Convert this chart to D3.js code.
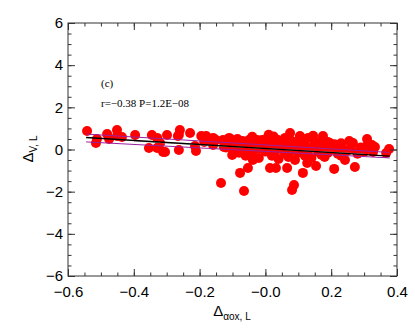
<!DOCTYPE html>
<html>
<head>
<meta charset="utf-8">
<script src="https://cdn.jsdelivr.net/npm/d3@7"></script>
<style>
  body { margin: 0; background: #fff; }
  svg { display: block; }
</style>
</head>
<body>
<svg id="chart" width="415" height="332"></svg>
<script>
// values
const dAox = [
  -0.542, -0.515, -0.512, -0.481, -0.475, -0.451, -0.451, -0.436, -0.396, -0.354,
  -0.345, -0.329, -0.329, -0.320, -0.311, -0.299, -0.266, -0.260, -0.263, -0.229,
  -0.214, -0.211, -0.180, -0.177, -0.159, -0.150, -0.135, -0.129, -0.101, -0.098,
  -0.077, -0.065, -0.053, -0.050, -0.025, -0.038, 0.008, 0.014, 0.032, 0.038,
  0.066, 0.075, 0.078, 0.105, 0.087, 0.081, 0.114, 0.127, 0.151, 0.154,
  0.175, 0.196, 0.209, 0.218, 0.236, 0.242, 0.266, 0.272, 0.309, 0.324,
  0.333, 0.327, 0.367, 0.376,
  -0.305, -0.263, -0.195, -0.186, -0.159, -0.126, -0.126, -0.102, -0.095, -0.074,
  -0.056, -0.050,
  -0.12, -0.11, -0.10, -0.09, -0.08, -0.07, -0.07, -0.06, -0.05, -0.05,
  -0.04, -0.04, -0.03, -0.02, -0.02, -0.01, -0.01, 0.00, 0.00, 0.01,
  0.01, 0.02, 0.02, 0.03, 0.03, 0.04, 0.04, 0.05, 0.05, 0.06,
  0.06, 0.07, 0.07, 0.08, 0.08, 0.09, 0.09, 0.10, 0.10, 0.11,
  0.11, 0.12, 0.12, 0.13, 0.13, 0.14, 0.14, 0.15, 0.16, 0.16,
  0.17, 0.17, 0.18, 0.19, 0.19, 0.20, 0.21, 0.22, 0.23, 0.25,
  0.26, 0.28, 0.29, 0.30, 0.31,
  -0.115, -0.085, 0.025, 0.065, 0.105, 0.145, 0.18, 0.23, 0.255, 0.287
];
const dV = [
  0.88, 0.31, 0.50, 0.73, 0.50, 0.92, 0.64, 0.59, 0.69, 0.07,
  0.69, 0.55, 0.07, 0.31, -0.12, 0.69, 0.64, 0.92, -0.02, 0.78,
  0.17, -0.07, 0.64, 0.45, 0.21, 0.45, -1.59, 0.45, -0.26, 0.36,
  -1.11, -1.97, -0.88, 0.45, 0.45, -0.50, 0.59, -0.88, -0.88, 0.45,
  -0.88, 0.78, 0.31, 0.64, -1.68, -1.92, -1.11, -0.64, 0.36, -0.78,
  0.64, 0.31, -0.92, 0.12, 0.02, -0.50, 0.31, -0.83, 0.50, 0.21,
  0.12, -0.12, -0.17, 0.02,
  -0.12, 0.69, 0.64, 0.36, 0.55, 0.36, 0.12, 0.45, -0.17, 0.36,
  0.21, -0.17,
  0.10, 0.55, 0.05, 0.25, -0.15, 0.40, 0.10, -0.30, 0.20, 0.00,
  0.60, -0.15, 0.30, 0.05, -0.40, 0.45, 0.15, -0.10, 0.30, 0.70,
  0.00, -0.30, 0.20, 0.50, -0.05, 0.10, -0.45, 0.35, 0.00, -0.20,
  0.55, 0.15, -0.35, 0.40, -0.05, 0.05, -0.50, 0.25, -0.15, 0.45,
  0.00, -0.30, 0.20, 0.55, -0.05, 0.10, -0.40, 0.30, -0.10, 0.05,
  0.40, -0.25, 0.15, -0.15, 0.35, 0.00, 0.25, -0.20, 0.30, -0.05,
  0.05, -0.20, 0.10, -0.10, 0.20,
  0.30, 0.50, 0.62, 0.25, 0.60, 0.65, -0.35, -0.30, 0.40, -0.05
];

// fit lines: [x0, y0, x1, y1]
const fitLines = [
  { name: "upper", pts: [-0.545, 0.73, 0.378, -0.14], color: "#9b1fa0" },
  { name: "lower", pts: [-0.545, 0.36, 0.378, -0.40], color: "#9b1fa0" },
  { name: "alt", pts: [-0.40, 0.40, 0.30, -0.22], color: "#aaaaaa" },
  { name: "fit", pts: [-0.545, 0.57, 0.378, -0.31], color: "#000000" }
];

const xTicks = [-0.6, -0.4, -0.2, 0.0, 0.2, 0.4],
  xTickLabels = ["\u22120.6", "\u22120.4", "\u22120.2", "\u22120.0", "0.2", "0.4"],
  yTicks = [-6, -4, -2, 0, 2, 4, 6],
  yTickLabels = ["\u22126", "\u22124", "\u22122", "0", "2", "4", "6"];

const LEFT = 68, RIGHT = 397, TOP = 23, BOTTOM = 276,
  AXIS_COLOR = "#333",
  svg = d3.select("#chart");

const x = d3.scaleLinear().domain([-0.6, 0.4]).range([LEFT, RIGHT]),
  y = d3.scaleLinear().domain([-6, 6]).range([BOTTOM, TOP]);

const xMinor = d3.range(-0.6, 0.4001, 0.05),
  yMinor = d3.range(-6, 6.001, 0.5);

// points
svg.append("g")
  .selectAll("circle")
  .data(dAox.map((d, i) => [d, dV[i]]))
  .enter()
  .append("circle")
  .attr("cx", d => x(d[0]))
  .attr("cy", d => y(d[1]))
  .attr("r", 5)
  .attr("fill", "#ff0000");

// regression lines
svg.append("g")
  .selectAll("line")
  .data(fitLines)
  .enter()
  .append("line")
  .attr("x1", d => x(d.pts[0]))
  .attr("y1", d => y(d.pts[1]))
  .attr("x2", d => x(d.pts[2]))
  .attr("y2", d => y(d.pts[3]))
  .attr("stroke", d => d.color)
  .attr("stroke-width", d => d.name == "fit" ? 1.3 : 1);

// frame and inward ticks on all four sides
function tickAxis(axisFn, scale, translate, major, minor, labels) {
  const g = svg.append("g").attr("transform", translate);
  g.call(axisFn(scale).tickValues(minor).tickSize(3.5).tickFormat(""));
  const gm = svg.append("g").attr("transform", translate);
  gm.call(axisFn(scale).tickValues(major).tickSize(7)
    .tickFormat(labels ? (d, i) => labels[i] : ""));
  [g, gm].forEach(a => {
    a.select(".domain").remove();
    a.selectAll(".tick line").attr("stroke", AXIS_COLOR);
  });
  return gm;
}

const bottomAx = tickAxis(d3.axisTop, x, `translate(0,${BOTTOM})`, xTicks, xMinor, xTickLabels);
bottomAx.selectAll("text")
  .attr("y", 10)
  .attr("dy", "0.71em");
tickAxis(d3.axisBottom, x, `translate(0,${TOP})`, xTicks, xMinor, null);

const leftAx = tickAxis(d3.axisRight, y, `translate(${LEFT},0)`, yTicks, yMinor, yTickLabels);
leftAx.selectAll("text")
  .attr("x", -5)
  .attr("text-anchor", "end");
tickAxis(d3.axisLeft, y, `translate(${RIGHT},0)`, yTicks, yMinor, null);

svg.selectAll(".tick text")
  .attr("fill", "#000")
  .attr("font-family", "'Liberation Sans', Arial, sans-serif")
  .attr("font-size", 15);

svg.append("rect")
  .attr("x", LEFT)
  .attr("y", TOP)
  .attr("width", RIGHT - LEFT)
  .attr("height", BOTTOM - TOP)
  .attr("fill", "none")
  .attr("stroke", AXIS_COLOR)
  .attr("stroke-width", 1);

// annotations
const serif = "'Liberation Serif', 'Times New Roman', serif";
svg.append("text")
  .attr("x", 101).attr("y", 87)
  .attr("font-family", serif).attr("font-size", 11)
  .text("(c)");
svg.append("text")
  .attr("x", 101).attr("y", 107)
  .attr("font-family", serif).attr("font-size", 11)
  .text("r=\u22120.38 P=1.2E\u221208");

// axis titles
const sans = "'Liberation Sans', Arial, sans-serif";
const xt = svg.append("text")
  .attr("x", 232).attr("y", 316)
  .attr("text-anchor", "middle")
  .attr("font-family", sans);
xt.append("tspan").attr("font-size", 15).text("\u0394");
xt.append("tspan").attr("font-size", 10).attr("dy", 4).text("\u03b1ox, L");

const yt = svg.append("text")
  .attr("transform", "translate(33,149) rotate(-90)")
  .attr("text-anchor", "middle")
  .attr("font-family", sans);
yt.append("tspan").attr("font-size", 15).text("\u0394");
yt.append("tspan").attr("font-size", 10).attr("dy", 4).text("V, L");
</script>
</body>
</html>
